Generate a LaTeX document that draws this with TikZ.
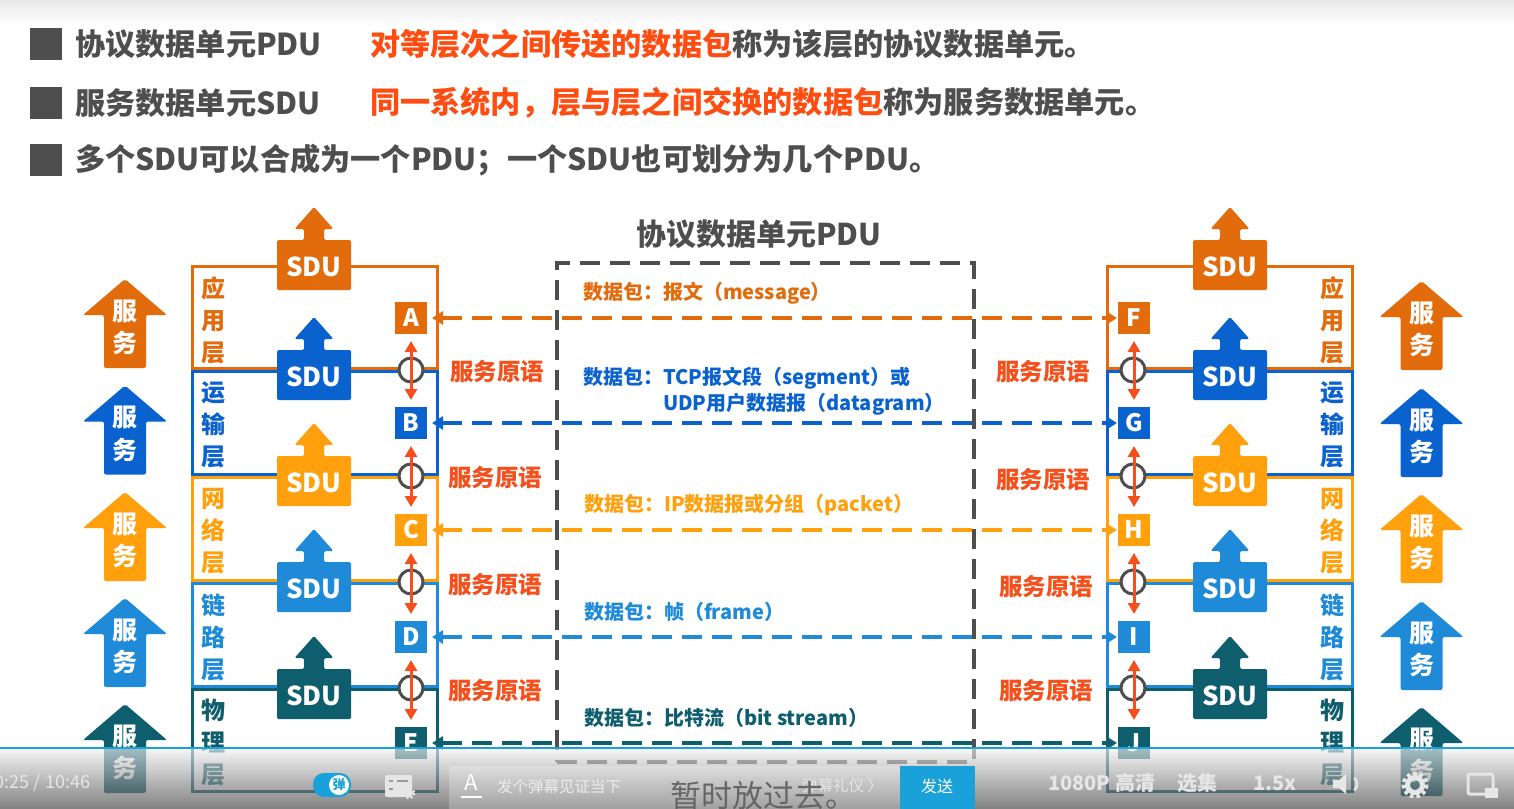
\documentclass[tikz,border=0pt]{standalone}
\usepackage{fontspec}
\setmainfont{Noto Sans CJK SC}
\usetikzlibrary{arrows.meta}
\definecolor{cApp}{HTML}{E26B0C}
\definecolor{cTrans}{HTML}{0A62CF}
\definecolor{cNet}{HTML}{FFA00C}
\definecolor{cLink}{HTML}{1E8AD8}
\definecolor{cPhy}{HTML}{0E5E6E}
\definecolor{cRed}{HTML}{F5501C}
\definecolor{cHred}{HTML}{FF4D12}
\definecolor{cGray}{HTML}{4E4E4E}
\definecolor{cBar}{HTML}{1BA1D9}
\definecolor{cLite}{HTML}{E6E6E6}
\newcommand{\sdublock}[4]{%
  \fill[#4, rounded corners=1.5pt] (#2-37,#3+50) -- (#2-37,#3) -- (#2-10,#3) -- (#2-10,#3-11) -- (#2-19.5,#3-11) -- (#2,#3-33) -- (#2+19.5,#3-11) -- (#2+10,#3-11) -- (#2+10,#3) -- (#2+37,#3) -- (#2+37,#3+50) -- cycle;
  \node[sdutxt] (#1) at (#2,#3+27) {SDU};
}
\newcommand{\svcarrow}[4]{%
  \fill[#4, rounded corners=2pt] (#2,#3) -- (#2+42,#3+36) -- (#2+21,#3+36) -- (#2+21,#3+89) -- (#2-21,#3+89) -- (#2-21,#3+36) -- (#2-42,#3+36) -- cycle;
  \node[svctxt] (#1a) at (#2,#3+32) {服};
  \node[svctxt] (#1b) at (#2,#3+64) {务};
}
\begin{document}
\begin{tikzpicture}[x=1pt,y=-1pt,
  every node/.style={inner sep=0pt, outer sep=0pt},
  hdr/.style={anchor=west, font=\bfseries\fontsize{30.2}{34}\selectfont, text=cGray},
  bulletbox/.style={fill=cGray, minimum size=32pt},
  sdutxt/.style={text=white, font=\bfseries\fontsize{26}{28}\selectfont},
  svctxt/.style={text=white, font=\bfseries\fontsize{25}{28}\selectfont},
  laytxt/.style={align=center, font=\bfseries\fontsize{24}{32}\selectfont},
  letbox/.style={minimum size=32pt, text=white, font=\bfseries\fontsize{24}{26}\selectfont},
  circ/.style={circle, draw=cGray, fill=white, line width=3pt, minimum size=24pt},
  redarr/.style={cRed, line width=3pt, {Triangle[width=12pt,length=11pt]}-{Triangle[width=12pt,length=11pt]}},
  pdu/.style={line width=4pt, dash pattern=on 20pt off 10pt, {Triangle[width=13pt,length=11pt]}-{Triangle[width=13pt,length=11pt]}},
  pkt/.style={anchor=west, font=\bfseries\fontsize{20}{26}\selectfont},
  prim/.style={text=cRed, font=\bfseries\fontsize{23.5}{26}\selectfont},
  bartxt/.style={text=cLite, font=\fontsize{18}{20}\selectfont},
]
\useasboundingbox (0,0) rectangle (1514,808);
\fill[white] (0,0) rectangle (1514,808);
\shade[top color=black!9, bottom color=white] (0,0) rectangle (1514,26);

% ---------- header ----------
\node[bulletbox] (b1) at (46,44) {};
\node[bulletbox] (b2) at (46,103) {};
\node[bulletbox] (b3) at (46,160) {};
\node[hdr] (h1) at (75,44) {协议数据单元PDU};
\node[hdr] (h1b) at (370,44) {\textcolor{cHred}{对等层次之间传送的数据包}称为该层的协议数据单元。};
\node[hdr] (h2) at (75,103) {服务数据单元SDU};
\node[hdr] (h2b) at (370,103) {\textcolor{cHred}{同一系统内，层与层之间交换的数据包}称为服务数据单元。};
\node[hdr] (h3) at (75,160) {多个SDU可以合成为一个PDU；一个SDU也可划分为几个PDU。};

% ---------- layer boxes ----------
\foreach \t/\b/\c in {265/370/cApp, 370/476/cTrans, 476/582/cNet, 582/688/cLink, 688/793/cPhy}{
  \draw[\c, line width=3pt] (192,\t+1.5) rectangle (437,\b-1.5);
  \draw[\c, line width=3pt] (1107,\t+1.5) rectangle (1352,\b-1.5);
}
\node[laytxt, text=cApp] (la1) at (213,320) {应\\用\\层};
\node[laytxt, text=cTrans] (la2) at (213,425) {运\\输\\层};
\node[laytxt, text=cNet] (la3) at (213,531) {网\\络\\层};
\node[laytxt, text=cLink] (la4) at (213,637) {链\\路\\层};
\node[laytxt, text=cPhy] (la5) at (213,743) {物\\理\\层};
\node[laytxt, text=cApp] (ra1) at (1332,320) {应\\用\\层};
\node[laytxt, text=cTrans] (ra2) at (1332,425) {运\\输\\层};
\node[laytxt, text=cNet] (ra3) at (1332,531) {网\\络\\层};
\node[laytxt, text=cLink] (ra4) at (1332,637) {链\\路\\层};
\node[laytxt, text=cPhy] (ra5) at (1332,743) {物\\理\\层};

% ---------- SDU blocks ----------
\sdublock{sl1}{314}{240}{cApp}
\sdublock{sl2}{314}{350}{cTrans}
\sdublock{sl3}{314}{456}{cNet}
\sdublock{sl4}{314}{562}{cLink}
\sdublock{sl5}{314}{669}{cPhy}
\sdublock{sr1}{1230}{240}{cApp}
\sdublock{sr2}{1230}{350}{cTrans}
\sdublock{sr3}{1230}{456}{cNet}
\sdublock{sr4}{1230}{562}{cLink}
\sdublock{sr5}{1230}{669}{cPhy}

% ---------- service arrows ----------
\svcarrow{vl1}{125}{279}{cApp}
\svcarrow{vl2}{125}{385.5}{cTrans}
\svcarrow{vl3}{125}{492}{cNet}
\svcarrow{vl4}{125}{598}{cLink}
\svcarrow{vl5}{125}{704}{cPhy}
\svcarrow{vr1}{1421.5}{281}{cApp}
\svcarrow{vr2}{1421.5}{388}{cTrans}
\svcarrow{vr3}{1421.5}{494}{cNet}
\svcarrow{vr4}{1421.5}{601}{cLink}
\svcarrow{vr5}{1421.5}{707}{cPhy}

% ---------- central PDU box ----------
\node[draw=cGray, line width=4pt, dash pattern=on 20pt off 10pt, minimum width=417pt, minimum height=499pt] (pdubox) at (765.5,512.5) {};
\node[text=cGray, font=\bfseries\fontsize{30}{34}\selectfont] (pdutitle) at (759,234) {协议数据单元PDU};

% ---------- letter boxes ----------
\node[letbox, fill=cApp] (A) at (411,318) {A};
\node[letbox, fill=cTrans] (B) at (411,423) {B};
\node[letbox, fill=cNet] (C) at (411,530) {C};
\node[letbox, fill=cLink] (D) at (411,637) {D};
\node[letbox, fill=cPhy] (E) at (411,743) {E};
\node[letbox, fill=cApp] (F) at (1134,318) {F};
\node[letbox, fill=cTrans] (G) at (1134,423) {G};
\node[letbox, fill=cNet] (H) at (1134,530) {H};
\node[letbox, fill=cLink] (I) at (1134,637) {I};
\node[letbox, fill=cPhy] (J) at (1134,743) {J};

% ---------- circles and primitive arrows ----------
\foreach \y [count=\i] in {370,476,582,688}{
  \node[circ] (cl\i) at (411,\y) {};
  \node[circ] (cr\i) at (1133,\y) {};
}
\foreach \u/\v in {A/B,B/C,C/D,D/E,F/G,G/H,H/I,I/J}{
  \draw[redarr] ([yshift=-7pt]\u.south) -- ([yshift=7pt]\v.north);
}

% ---------- peer PDU dashed connectors ----------
\draw[pdu, cApp, shorten <=5pt, shorten >=1pt] (A) -- (F);
\draw[pdu, cTrans, shorten <=5pt, shorten >=1pt] (B) -- (G);
\draw[pdu, cNet, shorten <=5pt, shorten >=1pt] (C) -- (H);
\draw[pdu, cLink, shorten <=5pt, shorten >=1pt] (D) -- (I);
\draw[pdu, cPhy, shorten <=5pt, shorten >=1pt] (E) -- (J);

% ---------- packet labels ----------
\node[pkt, text=cApp] (p1) at (583,293) {数据包：报文（message）};
\node[pkt, text=cTrans] (p2) at (583,378) {数据包：TCP报文段（segment）或};
\node[pkt, text=cTrans] (p2b) at (663,404) {UDP用户数据报（datagram）};
\node[pkt, text=cNet] (p3) at (584,505) {数据包：IP数据报或分组（packet）};
\node[pkt, text=cLink] (p4) at (584,612) {数据包：帧（frame）};
\node[pkt, text=cPhy] (p5) at (584,718) {数据包：比特流（bit stream）};

% ---------- service primitive labels ----------
\node[prim, anchor=west] (pl1) at (450,372) {服务原语};
\node[prim, anchor=west] (pl2) at (448,478) {服务原语};
\node[prim, anchor=west] (pl3) at (448,585) {服务原语};
\node[prim, anchor=west] (pl4) at (448,691) {服务原语};
\node[prim, anchor=east] (pr1) at (1090,372) {服务原语};
\node[prim, anchor=east] (pr2) at (1090,480) {服务原语};
\node[prim, anchor=east] (pr3) at (1093,587) {服务原语};
\node[prim, anchor=east] (pr4) at (1093,691) {服务原语};

% ---------- video player bar ----------
\shade[top color=black!6, bottom color=black!75, opacity=0.65] (0,749) rectangle (1514,808);
\draw[cBar, line width=2pt] (0,748) -- (1514,748);
\node[bartxt, anchor=east] (time) at (90,783) {0:25 / 10:46};
\fill[cBar, rounded corners=11pt] (313,773) rectangle (351,797);
\node[circle, fill=white, minimum size=20pt, text=cBar, font=\bfseries\fontsize{13}{14}\selectfont] (tog) at (339,785) {弹};
\fill[cLite, rounded corners=2pt] (385,775) rectangle (412,797);
\draw[black!40, line width=2pt] (389,781) -- (393,781) (397,781) -- (408,781) (389,789) -- (393,789);
\draw[cLite, line width=3pt, dash pattern=on 2pt off 2pt] (409,793) circle (5);
\fill[white, opacity=0.25, rounded corners=3pt] (449,766) rectangle (900,812);
\node[text=white, font=\fontsize{22}{24}\selectfont] (Aicon) at (471,782) {A};
\draw[white, line width=2.5pt] (461,797) -- (482,797);
\node[anchor=west, text=white!85!gray, font=\fontsize{15.5}{18}\selectfont] (hint) at (497,787) {发个弹幕见证当下};
\node[anchor=west, text=white!80!gray, font=\fontsize{15.5}{18}\selectfont] (etiq) at (802,786) {弹幕礼仪 〉};
\node[text=black!60, font=\fontsize{31}{34}\selectfont] (subt) at (763,796) {暂时放过去。};
\fill[cBar] (900,766) rectangle (975,812);
\node[text=white, font=\fontsize{16}{18}\selectfont] (send) at (937,786) {发送};
\node[bartxt, anchor=west, font=\bfseries\fontsize{20}{22}\selectfont] (q) at (1048,783) {1080P 高清};
\node[bartxt, anchor=west, font=\bfseries\fontsize{20}{22}\selectfont] (sel) at (1177,783) {选集};
\node[bartxt, anchor=west, font=\bfseries\fontsize{20}{22}\selectfont] (spd) at (1253,783) {1.5x};
\fill[cLite] (1333,780) -- (1339,780) -- (1346,774) -- (1346,794) -- (1339,788) -- (1333,788) -- cycle;
\draw[cLite, line width=2.5pt] (1348,784) ++(-45:9) arc[start angle=-45, end angle=45, radius=9];
\draw[cLite, line width=5pt] (1415,785) circle (7.5);
\draw[cLite, line width=4pt, dash pattern=on 3.5pt off 3pt] (1415,785) circle (11.5);
\draw[cLite, line width=3pt, rounded corners=2pt] (1468,774) rectangle (1493,794);
\fill[cLite] (1485,788) rectangle (1498,798);
\end{tikzpicture}
\end{document}
